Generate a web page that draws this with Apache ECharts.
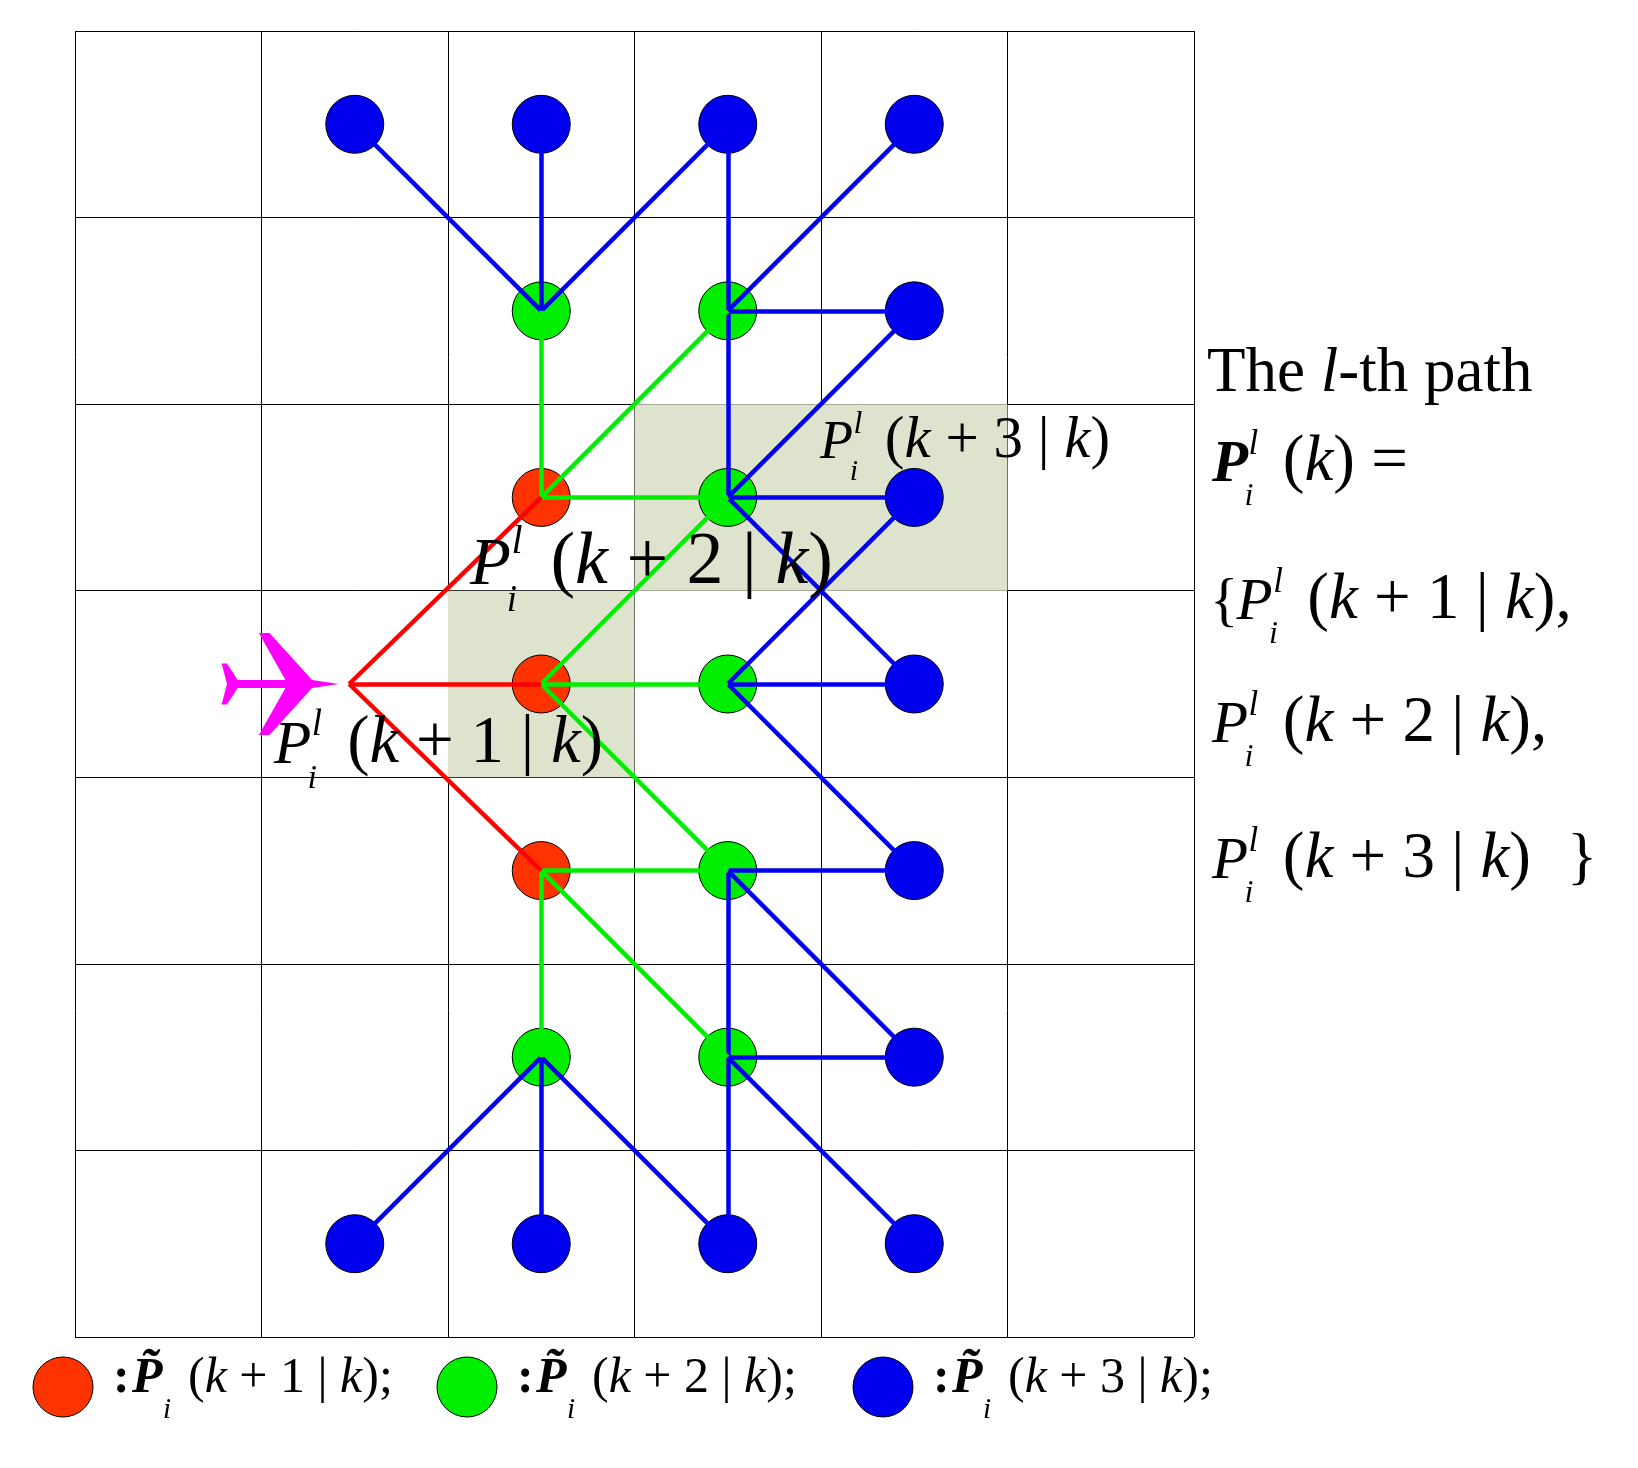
<!DOCTYPE html>
<html><head><meta charset="utf-8">
<script src="https://cdn.jsdelivr.net/npm/echarts@6/dist/echarts.min.js"></script>
<style>html,body{margin:0;background:#fff}#main{width:1638px;height:1468px}</style>
</head><body><div id="main"></div>
<script>
// node positions in grid units (x from left, y from top)
var redNodes = [[2.5, 2.5], [2.5, 3.5], [2.5, 4.5]];
var greenNodes = [[2.5, 1.5], [3.5, 1.5], [3.5, 2.5], [3.5, 3.5], [3.5, 4.5], [2.5, 5.5], [3.5, 5.5]];
var blueNodes = [[1.5, 0.5], [2.5, 0.5], [3.5, 0.5], [4.5, 0.5], [4.5, 1.5], [4.5, 2.5], [4.5, 3.5],
	[4.5, 4.5], [4.5, 5.5], [1.5, 6.5], [2.5, 6.5], [3.5, 6.5], [4.5, 6.5]];
var redEdges = [[[1.47, 3.5], [2.5, 2.5]], [[1.47, 3.5], [2.5, 3.5]], [[1.47, 3.5], [2.5, 4.5]]];
var greenEdges = [
	[[2.5, 2.5], [2.5, 1.5]], [[2.5, 2.5], [3.5, 1.5]], [[2.5, 2.5], [3.5, 2.5]],
	[[2.5, 3.5], [3.5, 2.5]], [[2.5, 3.5], [3.5, 3.5]], [[2.5, 3.5], [3.5, 4.5]],
	[[2.5, 4.5], [3.5, 4.5]], [[2.5, 4.5], [2.5, 5.5]], [[2.5, 4.5], [3.5, 5.5]]
];
var blueEdges = [
	[[2.5, 1.5], [1.5, 0.5]], [[2.5, 1.5], [2.5, 0.5]], [[2.5, 1.5], [3.5, 0.5]],
	[[3.5, 2.5], [3.5, 0.5]], [[3.5, 1.5], [4.5, 0.5]], [[3.5, 1.5], [4.5, 1.5]],
	[[3.5, 2.5], [4.5, 1.5]], [[3.5, 2.5], [4.5, 2.5]], [[3.5, 2.5], [4.5, 3.5]],
	[[3.5, 3.5], [4.5, 2.5]], [[3.5, 3.5], [4.5, 3.5]], [[3.5, 3.5], [4.5, 4.5]],
	[[3.5, 4.5], [4.5, 4.5]], [[3.5, 4.5], [4.5, 5.5]], [[3.5, 4.5], [3.5, 6.5]],
	[[3.5, 5.5], [4.5, 5.5]], [[3.5, 5.5], [4.5, 6.5]],
	[[2.5, 5.5], [1.5, 6.5]], [[2.5, 5.5], [2.5, 6.5]], [[2.5, 5.5], [3.5, 6.5]]
];
var shadedCells = [[3, 2, 5, 3], [2, 3, 3, 4]];
var plane = [[1.1, 3.5]];

var RED = '#ff3300', GREEN = '#00ee00', BLUE = '#0000ee';
var FONT = '"Liberation Serif", "DejaVu Serif", serif';
var F = 1638 / 1568;
function S(v) { return Math.round(v * F); }

function toLines(edges) {
	return edges.map(function(e) { return { coords: e }; });
}
function nodes(data, color) {
	return {
		type: 'scatter', data: data, symbolSize: 58, z: 5,
		itemStyle: { color: color, borderColor: '#000', borderWidth: 1, opacity: 1 }
	};
}
function edgeSeries(edges, color) {
	return {
		type: 'lines', coordinateSystem: 'cartesian2d', data: toLines(edges), z: 6,
		lineStyle: { color: color, width: 4.5, opacity: 1 }
	};
}
function mkRich(s) {
	return {
		n: { fontFamily: FONT, fontSize: s },
		k: { fontFamily: FONT, fontStyle: 'italic', fontSize: s }
	};
}
function txt(x, y, text, font) {
	return { type: 'text', z: 100, left: x, top: y, style: { text: text, font: font, fill: '#000' } };
}
// P_i^l followed by rest, coordinates in reference-view pixels
function pexpr(x, y, s, rest, bold, prefix) {
	x = S(x); y = S(y); s = S(s);
	var els = [];
	var px = x;
	if (prefix) {
		els.push(txt(x, y - s * 0.9, prefix, s + 'px ' + FONT));
		px = x + s * 0.45;
	}
	els.push(txt(px, y - s * 0.9, 'P', (bold ? 'italic bold ' : 'italic ') + s + 'px ' + FONT));
	els.push(txt(px + s * 0.62, y - s * 1.05, 'l', 'italic ' + Math.round(s * 0.6) + 'px ' + FONT));
	els.push(txt(px + s * 0.55, y - s * 0.15, 'i', 'italic ' + Math.round(s * 0.55) + 'px ' + FONT));
	var rs = Math.round(s * 1.1);
	els.push({ type: 'text', z: 100, left: px + s * 1.2, top: y - rs * 0.9,
		style: { text: rest, rich: mkRich(rs), fill: '#000' } });
	return els;
}
function legendItem(cx, color, label) {
	var s = S(48), x = S(cx);
	return [
		{ type: 'circle', z: 100, shape: { cx: x, cy: S(1328), r: S(29) }, style: { fill: color, stroke: '#000', lineWidth: 1 } },
		txt(x + S(48), S(1296), ':', 'bold ' + s + 'px ' + FONT),
		txt(x + S(66), S(1296), 'P\u0303', 'italic bold ' + s + 'px ' + FONT),
		txt(x + S(96), S(1336), 'i', 'italic ' + S(28) + 'px ' + FONT),
		{ type: 'text', z: 100, left: x + S(120), top: S(1296), style: { text: label, rich: mkRich(s) } }
	];
}

var graphics = [].concat(
	pexpr(785, 445, 52, '{n|(}{k|k}{n| + 3 | }{k|k}{n|)}'),
	pexpr(450, 568, 64, '{n|(}{k|k}{n| + 2 | }{k|k}{n|)}'),
	pexpr(262, 738, 58, '{n|(}{k|k}{n| + 1 | }{k|k}{n|)}'),
	[{ type: 'text', z: 100, left: S(1155), top: S(328),
		style: { text: 'The {k|l}-th path', rich: mkRich(S(60)), font: S(60) + 'px ' + FONT } }],
	pexpr(1160, 468, 56, '{n|(}{k|k}{n|) =}', true),
	pexpr(1158, 600, 56, '{n|(}{k|k}{n| + 1 | }{k|k}{n|),}', false, '{'),
	pexpr(1160, 718, 56, '{n|(}{k|k}{n| + 2 | }{k|k}{n|),}'),
	pexpr(1160, 848, 56, '{n|(}{k|k}{n| + 3 | }{k|k}{n|)}'),
	[txt(S(1500), S(848) - S(60) * 0.9, '}', S(60) + 'px ' + FONT)],
	legendItem(60, RED, '{n|(}{k|k}{n| + 1 | }{k|k}{n|);}'),
	legendItem(447, GREEN, '{n|(}{k|k}{n| + 2 | }{k|k}{n|);}'),
	legendItem(845, BLUE, '{n|(}{k|k}{n| + 3 | }{k|k}{n|);}')
);

var myChart = echarts.init(document.getElementById('main'));
var option = {
	animation: false,
	grid: { left: S(72), top: S(30), width: S(1071), height: S(1250) },
	xAxis: {
		type: 'value', min: 0, max: 6, interval: 1,
		axisLabel: { show: false }, axisTick: { show: false },
		axisLine: { show: false },
		splitLine: { show: true, lineStyle: { color: '#000', width: 1 } }
	},
	yAxis: {
		type: 'value', min: 0, max: 7, interval: 1, inverse: true,
		axisLabel: { show: false }, axisTick: { show: false },
		axisLine: { show: false },
		splitLine: { show: true, lineStyle: { color: '#000', width: 1 } }
	},
	series: [
		{
			type: 'custom', z: 1,
			data: shadedCells,
			renderItem: function(params, api) {
				var a = api.coord([api.value(0), api.value(1)]);
				var b = api.coord([api.value(2), api.value(3)]);
				return { type: 'rect', shape: { x: a[0], y: a[1], width: b[0] - a[0], height: b[1] - a[1] },
					style: { fill: '#dde3cc' } };
			}
		},
		edgeSeries(blueEdges, BLUE),
		edgeSeries(greenEdges, GREEN),
		edgeSeries(redEdges, '#ff0000'),
		nodes(redNodes, RED),
		nodes(greenNodes, GREEN),
		nodes(blueNodes, BLUE),
		{
			type: 'scatter', data: plane, z: 7, symbolSize: [117, 102],
			symbol: 'path://M110,50 L85,46 L45,0 L35,0 L60,46 L15,46 L5,30 L0,30 L5,50 L0,70 L5,70 L15,54 L60,54 L35,100 L45,100 L85,54 Z',
			itemStyle: { color: '#ff00ff', opacity: 1 }
		}
	],
	graphic: graphics
};
myChart.setOption(option);
</script>
</body></html>
